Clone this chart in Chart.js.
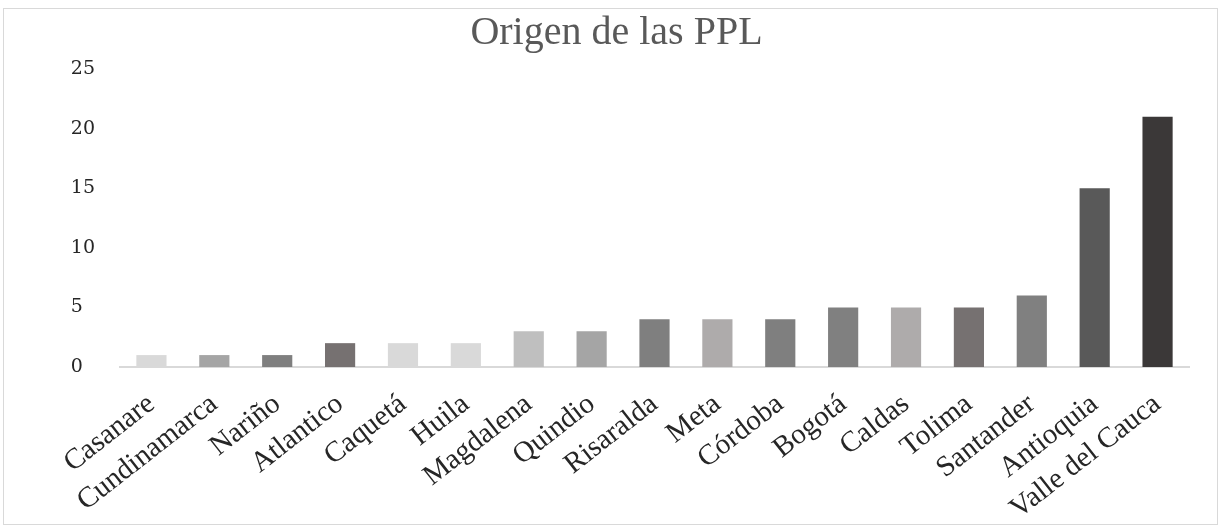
<!DOCTYPE html>
<html>
<head>
<meta charset="utf-8">
<script src="https://cdn.jsdelivr.net/npm/chart.js@4/dist/chart.umd.min.js"></script>
<style>
  body { margin: 0; background: #fff; }
  #box {
    position: absolute; left: 3px; top: 8px;
    width: 1213px; height: 515px;
    border: 1px solid #d9d9d9;
  }
</style>
</head>
<body>
<div id="box"><canvas id="chart" width="1213" height="515"></canvas></div>
<script>
const departamentos = ["Casanare", "Cundinamarca", "Nariño", "Atlantico", "Caquetá", "Huila",
  "Magdalena", "Quindio", "Risaralda", "Meta", "Córdoba", "Bogotá", "Caldas", "Tolima",
  "Santander", "Antioquia", "Valle del Cauca"]
const cantidad = [1, 1, 1, 2, 2, 2, 3, 3, 4, 4, 4, 5, 5, 5, 6, 15, 21]
const grises = ["#d9d9d9", "#a5a5a5", "#7f7f7f", "#767171", "#d9d9d9", "#d9d9d9",
  "#bfbfbf", "#a5a5a5", "#7f7f7f", "#aeabab", "#7f7f7f", "#808080", "#aeabab", "#767171",
  "#808080", "#595959", "#3b3838"]
const yTicks = [0, 5, 10, 15, 20, 25]

const serif = "'Liberation Serif', 'Times New Roman', serif"

new Chart(document.getElementById("chart"), {
  type: "bar",
  data: {
    labels: departamentos,
    datasets: [{
      label: "PPL",
      data: cantidad,
      backgroundColor: grises,
      barPercentage: 0.48,
      categoryPercentage: 1
    }]
  },
  options: {
    responsive: false,
    animation: false,
    layout: { padding: { left: 40, right: 28, top: 0, bottom: 0 } },
    plugins: {
      legend: { display: false },
      tooltip: { enabled: false },
      title: {
        display: true,
        text: "Origen de las PPL",
        color: "#595959",
        font: { family: serif, size: 40, weight: "normal" },
        padding: { top: 0, bottom: 12 }
      }
    },
    scales: {
      x: {
        grid: { display: false },
        border: { display: true, color: "#d9d9d9", width: 2 },
        ticks: {
          color: "#262626",
          font: { family: serif, size: 29 },
          minRotation: 38,
          maxRotation: 38,
          autoSkip: false,
          padding: 12
        },
        afterFit: s => { s.height = 157 }
      },
      y: {
        min: 0,
        max: 25,
        afterBuildTicks: s => { s.ticks = yTicks.map(v => ({ value: v })) },
        grid: { display: false },
        border: { display: false },
        ticks: {
          color: "#262626",
          font: { family: "'DejaVu Serif', serif", size: 19 },
          // single digits keep the left edge of two-digit labels
          callback: v => v < 10 ? v + "\u2007" : String(v),
          padding: 17
        },
        afterFit: s => { s.width = 76 }
      }
    }
  }
})
</script>
</body>
</html>
